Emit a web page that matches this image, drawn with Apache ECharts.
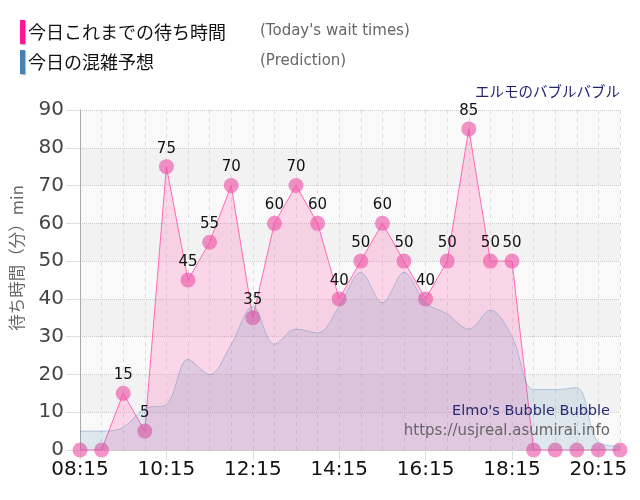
<!DOCTYPE html>
<html>
<head>
<meta charset="utf-8">
<script src="https://cdn.jsdelivr.net/npm/echarts@6/dist/echarts.min.js"></script>
<style>
html,body{margin:0;padding:0;background:#fff;}
#chart{width:640px;height:500px;}
</style>
</head>
<body>
<div id="chart"></div>
<script>
const times = ['08:15','08:45','09:15','09:45','10:15','10:45','11:15','11:45','12:15','12:45','13:15','13:45','14:15','14:45','15:15','15:45','16:15','16:45','17:15','17:45','18:15','18:45','19:15','19:45','20:15','20:45'];
const waitTimes = [0,0,15,5,75,45,55,70,35,60,70,60,40,50,60,50,40,50,85,50,50,0,0,0,0,0];
const prediction = [5,5,6,11,12,24,20,28,38,28,32,31,38,47,39,47,39,36,32,37,30,16,16,16.5,2,1];
const yTicks = [0,10,20,30,40,50,60,70,80,90];

const JP = '"Noto Sans CJK JP", sans-serif';
const LAT = '"DejaVu Sans", Verdana, sans-serif';

const chart = echarts.init(document.getElementById('chart'), null, {renderer:'canvas'});
chart.setOption({
  animation: false,
  backgroundColor: '#fff',
  grid: {left: 80, right: 20, top: 110, bottom: 50},
  graphic: [
    {type:'rect', left: 20, top: 20, shape:{width:5, height:24}, style:{fill:'#ff1493', shadowColor:'rgba(0,0,0,0.25)', shadowOffsetX:1, shadowOffsetY:1, shadowBlur:1}},
    {type:'rect', left: 20, top: 50, shape:{width:5, height:24}, style:{fill:'#4682b4', shadowColor:'rgba(0,0,0,0.25)', shadowOffsetX:1, shadowOffsetY:1, shadowBlur:1}},
    {type:'text', x: 28, y: 32, style:{text:'今日これまでの待ち時間', font:'18px ' + JP, fill:'#111', textVerticalAlign:'middle'}},
    {type:'text', x: 260, y: 31, style:{text:"(Today's wait times)", font:'15px ' + LAT, fill:'#666', textVerticalAlign:'middle'}},
    {type:'text', x: 28, y: 62, style:{text:'今日の混雑予想', font:'18px ' + JP, fill:'#111', textVerticalAlign:'middle'}},
    {type:'text', x: 260, y: 61, style:{text:'(Prediction)', font:'15px ' + LAT, fill:'#666', textVerticalAlign:'middle'}},
    {type:'text', x: 620, y: 91, style:{text:'エルモのバブルバブル', font:'14.5px ' + JP, fill:'#232370', textAlign:'right', textVerticalAlign:'middle'}},
    {type:'text', x: 17, y: 258, rotation: Math.PI / 2, style:{text:'待ち時間（分）min', font:'16.5px ' + JP, fill:'#666', textAlign:'center', textVerticalAlign:'middle'}},
    {type:'text', x: 610, y: 411, z: 20, style:{text:"Elmo's Bubble Bubble", font:'14.5px ' + LAT, fill:'#2a2a6e', textAlign:'right', textVerticalAlign:'middle'}},
    {type:'text', x: 610, y: 431, z: 20, style:{text:'https://usjreal.asumirai.info', font:'15px ' + LAT, fill:'#666', textAlign:'right', textVerticalAlign:'middle'}}
  ],
  xAxis: {
    type: 'category',
    data: times,
    boundaryGap: false,
    axisLine: {show: true, lineStyle: {color: '#ccc'}},
    axisTick: {show: true, interval: 3, length: 10, lineStyle: {color: '#ddd'}},
    axisLabel: {interval: 3, margin: 10, color: '#111', fontSize: 20, fontFamily: LAT},
    splitLine: {show: true, interval: 0, lineStyle: {color: '#ddd', type: [4, 4]}}
  },
  yAxis: {
    type: 'value',
    min: 0, max: 90, interval: 10,
    axisLine: {show: true, lineStyle: {color: '#aaa'}},
    axisTick: {show: true, length: 14, lineStyle: {color: '#ddd'}},
    axisLabel: {margin: 16, color: '#444', fontSize: 20, fontFamily: LAT,
      formatter: v => yTicks.includes(v) ? String(v) : ''},
    splitLine: {show: true, lineStyle: {color: '#ccc', type: 'dotted'}},
    splitArea: {show: true, areaStyle: {color: ['#f9f9f9', '#f2f2f2']}}
  },
  series: [
    {
      name: '今日これまでの待ち時間',
      type: 'line',
      data: waitTimes,
      z: 3,
      symbol: 'circle',
      symbolSize: 15,
      showSymbol: true,
      showAllSymbol: true,
      lineStyle: {color: '#ff69b4', width: 1},
      itemStyle: {color: 'rgba(238,80,165,0.62)'},
      areaStyle: {color: 'rgba(255,105,180,0.35)'},
      label: {show: true, position: 'top', distance: 3, color: '#111', fontSize: 15, fontFamily: LAT,
        formatter: p => p.value === 0 ? '' : String(p.value)},
      labelLayout: {hideOverlap: false}
    },
    {
      name: '今日の混雑予想',
      type: 'line',
      data: prediction,
      z: 4,
      smooth: 0.35,
      symbol: 'none',
      lineStyle: {color: 'rgba(70,130,180,0.35)', width: 1},
      areaStyle: {color: 'rgba(70,130,180,0.2)'}
    }
  ]
});
</script>
</body>
</html>
